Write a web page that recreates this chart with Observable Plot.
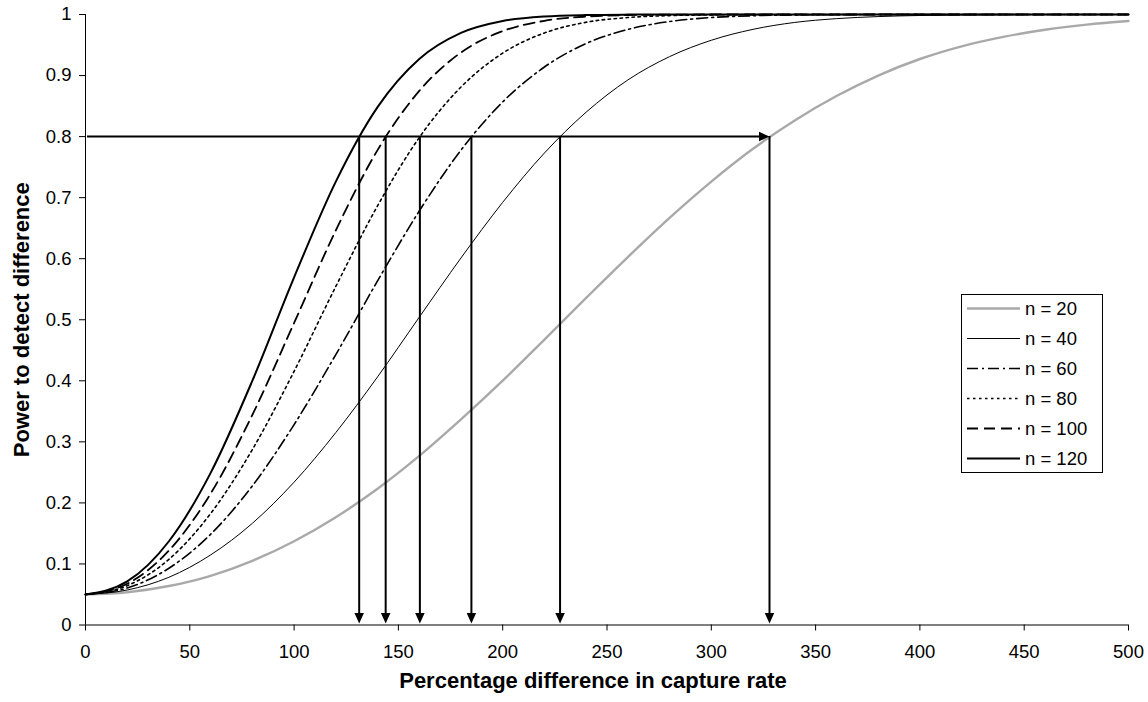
<!DOCTYPE html>
<html>
<head>
<meta charset="utf-8">
<script src="https://cdn.jsdelivr.net/npm/d3@7"></script>
<script src="https://cdn.jsdelivr.net/npm/@observablehq/plot@0.6"></script>
<style>
  html, body { margin: 0; padding: 0; background: #fff; }
  #wrap { position: relative; width: 1148px; height: 702px; }
</style>
</head>
<body>
<div id="wrap"></div>
<script>
// ---- data ----
const xValues = [0, 20, 40, 60, 80, 100, 120, 140, 160, 180, 200, 220, 240, 260, 280, 300, 320, 340, 360, 380, 400, 420, 440, 460, 480, 500];

const seriesLabels = ["n = 20", "n = 40", "n = 60", "n = 80", "n = 100", "n = 120"];

const power20  = [0.05, 0.0536, 0.0638, 0.0806, 0.1051, 0.1372, 0.1765, 0.2232, 0.277, 0.3368, 0.4002, 0.4676, 0.5358, 0.6027, 0.6669, 0.7263, 0.78, 0.8265, 0.8664, 0.9, 0.9271, 0.9479, 0.9634, 0.975, 0.9834, 0.9893];
const power40  = [0.05, 0.0573, 0.0782, 0.1148, 0.1666, 0.234, 0.3152, 0.4064, 0.5042, 0.6012, 0.6923, 0.7731, 0.84, 0.8928, 0.931, 0.9578, 0.9757, 0.987, 0.9932, 0.9966, 0.9984, 0.9992, 0.9997, 0.9999, 1, 1];
const power60  = [0.05, 0.0606, 0.093, 0.1487, 0.2279, 0.3283, 0.4429, 0.5636, 0.6781, 0.7779, 0.8568, 0.914, 0.9525, 0.9755, 0.9885, 0.995, 0.998, 0.9992, 0.9997, 1, 1, 1, 1, 1, 1, 1];
const power80  = [0.05, 0.0644, 0.1076, 0.1826, 0.2874, 0.4156, 0.5546, 0.6866, 0.7984, 0.8812, 0.9367, 0.9698, 0.9873, 0.995, 0.9982, 0.9994, 0.9998, 1, 1, 1, 1, 1, 1, 1, 1, 1];
const power100 = [0.05, 0.0676, 0.122, 0.2153, 0.3443, 0.4948, 0.6465, 0.7779, 0.8748, 0.9378, 0.9728, 0.9897, 0.9966, 0.999, 0.9997, 1, 1, 1, 1, 1, 1, 1, 1, 1, 1, 1];
const power120 = [0.05, 0.0713, 0.1372, 0.2492, 0.4002, 0.5695, 0.7263, 0.8483, 0.9271, 0.9698, 0.9893, 0.9968, 0.9991, 0.9998, 1, 1, 1, 1, 1, 1, 1, 1, 1, 1, 1, 1];

const seriesValues = [power20, power40, power60, power80, power100, power120];

// x at which each curve reaches the target power (arrows), n = 120 ... n = 20
const arrowX = [131.2, 143.9, 160.3, 185.0, 227.5, 327.9];
const targetPower = 0.8;

const xTicks = [0, 50, 100, 150, 200, 250, 300, 350, 400, 450, 500];
const yTicks = [0, 0.1, 0.2, 0.3, 0.4, 0.5, 0.6, 0.7, 0.8, 0.9, 1];
const yTickLabels = ["0", "0.1", "0.2", "0.3", "0.4", "0.5", "0.6", "0.7", "0.8", "0.9", "1"];

const xTitle = "Percentage difference in capture rate";
const yTitle = "Power to detect difference";

// ---- styles ----
const seriesStyles = [
  {stroke: "#a9a9a9", strokeWidth: 2.4, dash: null},
  {stroke: "#000", strokeWidth: 1, dash: null},
  {stroke: "#000", strokeWidth: 1.6, dash: "11,4,2,4"},
  {stroke: "#000", strokeWidth: 1.6, dash: "2.5,3.5"},
  {stroke: "#000", strokeWidth: 1.8, dash: "11,6"},
  {stroke: "#000", strokeWidth: 2, dash: null}
];

const tidy = seriesValues.map((vals, i) =>
  xValues.map((x, j) => ({x, y: vals[j], series: seriesLabels[i]})));

// filled arrow heads
const downHead = {draw(ctx, size) { const r = Math.sqrt(size / Math.PI);
  ctx.moveTo(0, 0); ctx.lineTo(-0.95 * r, -2.1 * r); ctx.lineTo(0.95 * r, -2.1 * r); ctx.closePath(); }};
const rightHead = {draw(ctx, size) { const r = Math.sqrt(size / Math.PI);
  ctx.moveTo(0, 0); ctx.lineTo(-2.1 * r, -0.95 * r); ctx.lineTo(-2.1 * r, 0.95 * r); ctx.closePath(); }};

const lineMarks = tidy.map((d, i) => Plot.line(d, {
  x: "x", y: "y", curve: "monotone-x",
  stroke: seriesStyles[i].stroke, strokeWidth: seriesStyles[i].strokeWidth,
  strokeDasharray: seriesStyles[i].dash || undefined
}));

const chart = Plot.plot({
  width: 1148, height: 702,
  marginLeft: 85, marginRight: 20, marginTop: 14, marginBottom: 77.5,
  style: {fontFamily: "'Liberation Sans', Arial, sans-serif", fontSize: "18.5px", background: "#fff", color: "#000"},
  x: {domain: [0, 500]},
  y: {domain: [0, 1]},
  marks: [
    Plot.axisX({ticks: xTicks, tickSize: 6, tickPadding: 14, label: null, tickFormat: d => String(d)}),
    Plot.axisY({ticks: yTicks, tickSize: 6, tickPadding: 8, label: null, tickFormat: d => yTickLabels[yTicks.indexOf(d)]}),
    ...lineMarks,
    Plot.ruleY([targetPower], {x1: 0, x2: d3.max(arrowX), strokeWidth: 2, insetLeft: 2, insetRight: 9}),
    Plot.ruleX(arrowX, {y1: targetPower, y2: 0, strokeWidth: 2, insetBottom: 11}),
    Plot.dot(arrowX, {x: d => d, y: 0, symbol: downHead, r: 5, fill: "#000", stroke: "none", dy: -1.5}),
    Plot.dot([targetPower], {x: d3.max(arrowX), y: d => d, symbol: rightHead, r: 5, fill: "#000", stroke: "none"}),
    Plot.ruleX([0], {stroke: "#000", strokeWidth: 1}),
    Plot.ruleY([0], {stroke: "#000", strokeWidth: 1}),
    Plot.text([xTitle], {frameAnchor: "bottom", textAnchor: "middle", dx: -14, dy: 63, fontWeight: "bold", fontSize: 22, text: d => d}),
    Plot.text([yTitle], {frameAnchor: "left", textAnchor: "middle", dx: -64, rotate: -90, fontWeight: "bold", fontSize: 22, text: d => d})
  ]
});

const wrap = document.getElementById("wrap");
wrap.appendChild(chart);

// ---- legend (inside the plot area, as in the reference) ----
const rowH = 30, boxW = 141, boxH = 178, padTop = 14;
const ns = "http://www.w3.org/2000/svg";
const leg = document.createElementNS(ns, "svg");
leg.setAttribute("width", boxW + 2);
leg.setAttribute("height", boxH + 2);
leg.style.position = "absolute";
leg.style.left = "961px";
leg.style.top = "294px";
const box = document.createElementNS(ns, "rect");
box.setAttribute("x", 0.5); box.setAttribute("y", 0.5);
box.setAttribute("width", boxW); box.setAttribute("height", boxH);
box.setAttribute("fill", "#fff"); box.setAttribute("stroke", "#000"); box.setAttribute("stroke-width", 1);
leg.appendChild(box);
seriesLabels.forEach((lab, i) => {
  const cy = padTop + i * rowH + 0.5;
  const ln = document.createElementNS(ns, "line");
  ln.setAttribute("x1", 6); ln.setAttribute("x2", 59);
  ln.setAttribute("y1", cy); ln.setAttribute("y2", cy);
  ln.setAttribute("stroke", seriesStyles[i].stroke);
  ln.setAttribute("stroke-width", seriesStyles[i].strokeWidth);
  if (seriesStyles[i].dash) ln.setAttribute("stroke-dasharray", seriesStyles[i].dash);
  leg.appendChild(ln);
  const tx = document.createElementNS(ns, "text");
  tx.setAttribute("x", 64); tx.setAttribute("y", cy);
  tx.setAttribute("dy", "0.35em");
  tx.setAttribute("font-family", "'Liberation Sans', Arial, sans-serif");
  tx.setAttribute("font-size", "18.5px");
  tx.textContent = lab;
  leg.appendChild(tx);
});
wrap.appendChild(leg);
</script>
</body>
</html>
